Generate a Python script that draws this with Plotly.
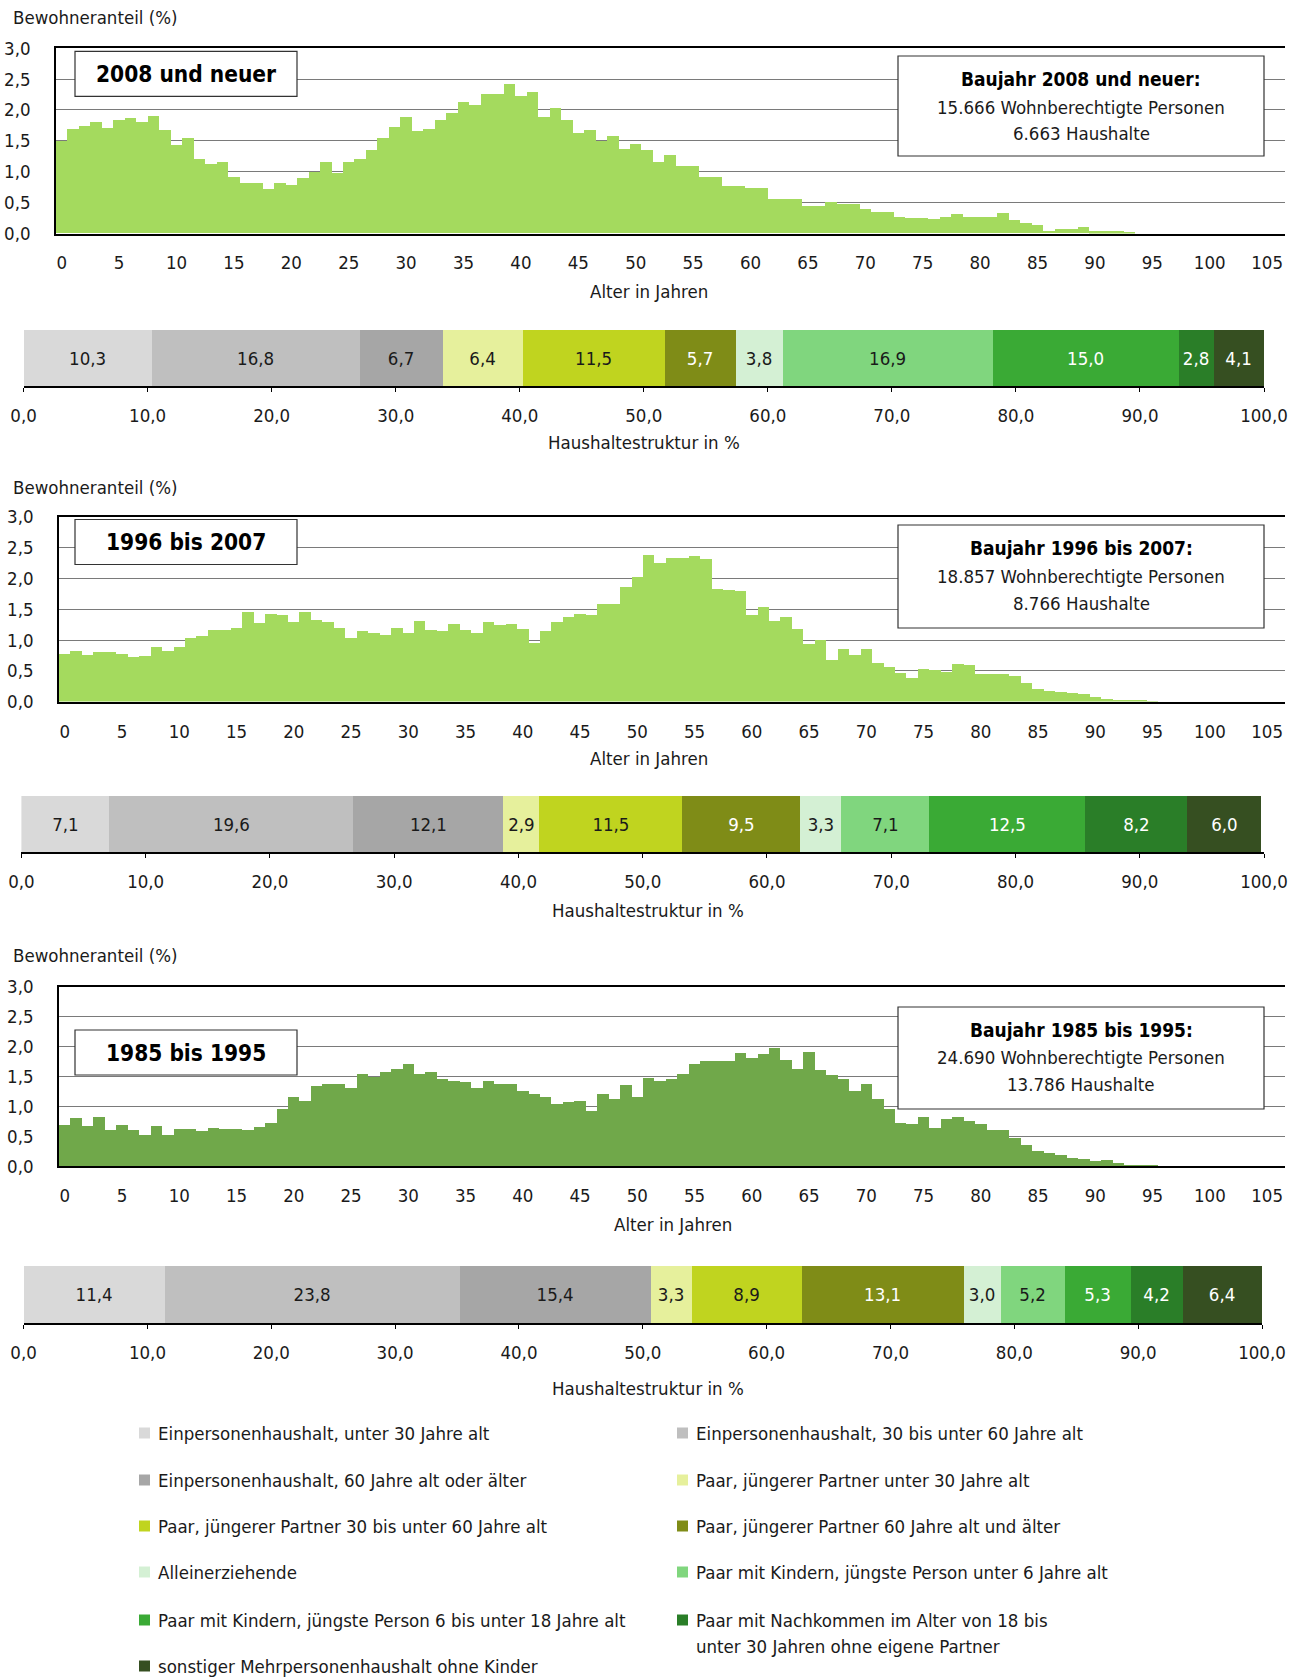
import plotly.graph_objects as go

W, H = 1295, 1680
FONT = "DejaVu Sans Condensed, Liberation Sans Narrow, Liberation Sans, sans-serif"
TXT = "#1a1a1a"
FS = 18.5

def px(x):
    return x / W

def py(y):
    return 1 - y / H

# ---------------- data ----------------
ages = list(range(0, 100))
age_ticks = list(range(0, 106, 5))
share_ticks = list(range(0, 101, 10))
y_ticks = [0, 0.5, 1.0, 1.5, 2.0, 2.5, 3.0]

hist_2008 = [1.49, 1.69, 1.73, 1.81, 1.71, 1.84, 1.87, 1.80, 1.90, 1.67,
             1.43, 1.54, 1.20, 1.12, 1.15, 0.91, 0.82, 0.82, 0.71, 0.82,
             0.79, 0.90, 1.00, 1.16, 0.97, 1.16, 1.21, 1.35, 1.54, 1.72,
             1.89, 1.65, 1.69, 1.84, 1.94, 2.12, 2.07, 2.26, 2.26, 2.41,
             2.22, 2.29, 1.89, 2.03, 1.84, 1.63, 1.67, 1.49, 1.57, 1.37,
             1.44, 1.35, 1.16, 1.27, 1.09, 1.09, 0.91, 0.91, 0.77, 0.77,
             0.73, 0.73, 0.56, 0.56, 0.56, 0.44, 0.44, 0.51, 0.48, 0.48,
             0.40, 0.34, 0.34, 0.27, 0.25, 0.25, 0.23, 0.26, 0.31, 0.26,
             0.26, 0.26, 0.33, 0.22, 0.16, 0.13, 0.04, 0.07, 0.07, 0.11,
             0.03, 0.03, 0.03, 0.01, 0.0]

hist_1996 = [0.77, 0.83, 0.75, 0.80, 0.81, 0.77, 0.72, 0.74, 0.88, 0.83,
             0.88, 1.03, 1.06, 1.16, 1.16, 1.19, 1.46, 1.28, 1.43, 1.40,
             1.30, 1.45, 1.32, 1.30, 1.19, 1.03, 1.14, 1.11, 1.09, 1.20,
             1.11, 1.31, 1.16, 1.14, 1.26, 1.16, 1.11, 1.29, 1.24, 1.26,
             1.18, 0.95, 1.14, 1.30, 1.38, 1.42, 1.41, 1.58, 1.59, 1.87,
             2.03, 2.38, 2.25, 2.34, 2.33, 2.37, 2.32, 1.83, 1.82, 1.80,
             1.41, 1.53, 1.31, 1.38, 1.18, 0.93, 1.00, 0.68, 0.85, 0.76,
             0.85, 0.62, 0.56, 0.47, 0.39, 0.53, 0.51, 0.48, 0.61, 0.60,
             0.45, 0.45, 0.45, 0.41, 0.31, 0.21, 0.18, 0.15, 0.14, 0.12,
             0.08, 0.05, 0.03, 0.02, 0.01, 0.005]

hist_1985 = [0.70, 0.81, 0.68, 0.83, 0.61, 0.70, 0.62, 0.54, 0.69, 0.54,
             0.64, 0.64, 0.60, 0.65, 0.64, 0.64, 0.62, 0.67, 0.73, 0.97,
             1.16, 1.10, 1.35, 1.38, 1.39, 1.32, 1.55, 1.50, 1.59, 1.64,
             1.72, 1.55, 1.59, 1.47, 1.43, 1.41, 1.31, 1.43, 1.39, 1.39,
             1.26, 1.21, 1.17, 1.05, 1.08, 1.10, 0.94, 1.21, 1.14, 1.36,
             1.16, 1.48, 1.44, 1.46, 1.55, 1.71, 1.76, 1.77, 1.76, 1.90,
             1.81, 1.89, 1.99, 1.79, 1.64, 1.92, 1.61, 1.53, 1.46, 1.27,
             1.39, 1.13, 0.97, 0.73, 0.72, 0.83, 0.65, 0.80, 0.84, 0.77,
             0.72, 0.61, 0.62, 0.49, 0.37, 0.26, 0.23, 0.20, 0.15, 0.13,
             0.10, 0.11, 0.07, 0.04, 0.03, 0.02, 0.01, 0.005]

categories = [
    "Einpersonenhaushalt, unter 30 Jahre alt",
    "Einpersonenhaushalt, 30 bis unter 60 Jahre alt",
    "Einpersonenhaushalt, 60 Jahre alt oder älter",
    "Paar, jüngerer Partner unter 30 Jahre alt",
    "Paar, jüngerer Partner 30 bis unter 60 Jahre alt",
    "Paar, jüngerer Partner 60 Jahre alt und älter",
    "Alleinerziehende",
    "Paar mit Kindern, jüngste Person unter 6 Jahre alt",
    "Paar mit Kindern, jüngste Person 6 bis unter 18 Jahre alt",
    "Paar mit Nachkommen im Alter von 18 bis<br>unter 30 Jahren ohne eigene Partner",
    "sonstiger Mehrpersonenhaushalt ohne Kinder",
]
shares_2008 = [10.3, 16.8, 6.7, 6.4, 11.5, 5.7, 3.8, 16.9, 15.0, 2.8, 4.1]
shares_1996 = [7.1, 19.6, 12.1, 2.9, 11.5, 9.5, 3.3, 7.1, 12.5, 8.2, 6.0]
shares_1985 = [11.4, 23.8, 15.4, 3.3, 8.9, 13.1, 3.0, 5.2, 5.3, 4.2, 6.4]

cat_colors = ["#d9d9d9", "#bfbfbf", "#a6a6a6", "#e6f09c", "#c0d41f", "#7f8c17",
              "#d4f0d4", "#80d67e", "#3aaa35", "#2a7e28", "#364f21"]
cat_text_colors = [TXT, TXT, TXT, TXT, TXT, "white", TXT, TXT, "white", "white", "white"]

titles = ["2008 und neuer", "1996 bis 2007", "1985 bis 1995"]
info_head = ["Baujahr 2008 und neuer:", "Baujahr 1996 bis 2007:", "Baujahr 1985 bis 1995:"]
persons = ["15.666", "18.857", "24.690"]
households = ["6.663", "8.766", "13.786"]

def de(v, d=1):
    return f"{v:.{d}f}".replace(".", ",")

# ---------------- layout geometry (pixels) ----------------
HIST_COLORS = ["#a4da5e", "#a4da5e", "#70a84a"]
hist_data = [hist_2008, hist_1996, hist_1985]
share_data = [shares_2008, shares_1996, shares_1985]

hist_geo = [  # left, right, top(3.0), bottom(0.0)
    (56, 1285, 48.2, 233.5),
    (59, 1285, 517.0, 701.6),
    (59, 1285, 986.5, 1166.4),
]
stack_geo = [  # left, right, top, bottom
    (23.6, 1264, 330, 386),
    (21.4, 1264, 796, 852),
    (23.6, 1262, 1266, 1323),
]
ylab_y = [18, 487, 955]
alter_pos = [(649, 291), (649, 759), (673, 1224)]
haus_pos = [(644, 443), (648, 911), (648, 1388)]
title_box = [(75, 297, 51.4, 96.4), (75, 297, 519.5, 564.5), (75, 297, 1030, 1075)]
info_box = [(898, 1264, 56, 156), (898, 1264, 525, 628), (898, 1264, 1007, 1109)]
info_lines_y = [(79, 107, 134), (548, 576, 603), (1030, 1057, 1084)]

fig = go.Figure()
layout = dict(
    width=W, height=H, autosize=False,
    margin=dict(l=0, r=0, t=0, b=0, pad=0, autoexpand=False),
    paper_bgcolor="white", plot_bgcolor="white",
    font=dict(family=FONT, size=FS, color=TXT),
    barmode="stack", bargap=0, showlegend=False,
    separators=",.",
)
shapes = []
annotations = []

def ann(text, x, y, size=FS, xanchor="center", yanchor="middle", color=TXT, align="center"):
    annotations.append(dict(text=text, x=px(x), y=py(y), xref="paper", yref="paper",
                            xanchor=xanchor, yanchor=yanchor, align=align, showarrow=False,
                            font=dict(size=size, family=FONT, color=color)))

for k in range(3):
    hx = 2 * k + 1
    sx = 2 * k + 2
    hname = "" if hx == 1 else str(hx)
    sname = str(sx)
    vals = hist_data[k]
    fig.add_trace(go.Bar(
        x=ages[:len(vals)], y=vals, width=1.0,
        marker=dict(color=HIST_COLORS[k], line=dict(width=0)),
        xaxis="x" + hname, yaxis="y" + hname, hoverinfo="skip",
    ))
    l, r, t, b = hist_geo[k]
    layout["xaxis" + hname] = dict(
        domain=[px(l), px(r)], range=[-0.5, 106.56], anchor="y" + hname,
        tickmode="array", tickvals=age_ticks, ticktext=[str(a) for a in age_ticks],
        ticks="", showgrid=False, zeroline=False, automargin=False,
        showline=True, linecolor="black", linewidth=1.5, mirror=True,
        ticklabelstandoff=12, tickfont=dict(size=FS, family=FONT, color=TXT),
    )
    layout["yaxis" + hname] = dict(
        domain=[py(b), py(t)], range=[0, 3], anchor="x" + hname,
        tickmode="array", tickvals=y_ticks, ticktext=[de(v) for v in y_ticks],
        ticks="", showgrid=True, gridcolor="#7a7a7a", gridwidth=1.2, zeroline=False,
        showline=True, linecolor="black", linewidth=1.5, automargin=False,
        ticklabelstandoff=20, tickfont=dict(size=FS, family=FONT, color=TXT),
    )

    shares = share_data[k]
    for i, v in enumerate(shares):
        fig.add_trace(go.Bar(
            x=[v], y=[0], orientation="h", width=1.0,
            marker=dict(color=cat_colors[i], line=dict(width=0)),
            text=[de(v)], textposition="inside", insidetextanchor="middle",
            textangle=0, constraintext="none",
            textfont=dict(color=cat_text_colors[i], size=FS, family=FONT),
            xaxis="x" + sname, yaxis="y" + sname, hoverinfo="skip",
        ))
    l, r, t, b = stack_geo[k]
    layout["xaxis" + sname] = dict(
        domain=[px(l), px(r)], range=[0, 100], anchor="y" + sname,
        tickmode="array", tickvals=share_ticks, ticktext=[de(v) for v in share_ticks],
        ticks="outside", ticklen=4, tickcolor="black", tickwidth=1,
        showgrid=False, zeroline=False, automargin=False,
        showline=True, linecolor="black", linewidth=2,
        ticklabelstandoff=8, tickfont=dict(size=FS, family=FONT, color=TXT),
    )
    # top tick marks of the percentage axis
    layout["xaxis" + str(7 + k)] = dict(
        domain=[px(l), px(r)], range=[0, 100], anchor="y" + sname, overlaying="x" + sname,
        side="top", tickmode="array", tickvals=share_ticks,
        ticks="outside", ticklen=4, tickcolor="#555555", tickwidth=1,
        showticklabels=False, showgrid=False, zeroline=False, showline=False,
        automargin=False,
    )
    layout["yaxis" + sname] = dict(
        domain=[py(b), py(t)], range=[-0.5, 0.5], anchor="x" + sname,
        showticklabels=False, ticks="", showgrid=False, zeroline=False, showline=False,
        automargin=False,
    )

    ann("Bewohneranteil (%)", 11, ylab_y[k], xanchor="left")
    ann("Alter in Jahren", alter_pos[k][0], alter_pos[k][1])
    ann("Haushaltestruktur in %", haus_pos[k][0], haus_pos[k][1])

    bl, br, bt, bb = title_box[k]
    shapes.append(dict(type="rect", xref="paper", yref="paper", x0=px(bl), x1=px(br),
                       y0=py(bb), y1=py(bt), fillcolor="white",
                       line=dict(color="#333333", width=1.2), layer="above"))
    ann("<b>" + titles[k] + "</b>", (bl + br) / 2, (bt + bb) / 2, size=22.5, color="black")

    il, ir, it, ib = info_box[k]
    shapes.append(dict(type="rect", xref="paper", yref="paper", x0=px(il), x1=px(ir),
                       y0=py(ib), y1=py(it), fillcolor="white",
                       line=dict(color="#333333", width=1.2), layer="above"))
    ly = info_lines_y[k]
    cx = (il + ir) / 2
    ann("<b>" + info_head[k] + "</b>", cx, ly[0], size=19, color="black")
    ann(persons[k] + " Wohnberechtigte Personen", cx, ly[1], size=FS)
    ann(households[k] + " Haushalte", cx, ly[2], size=FS)

# legend
leg_rows = [1433, 1480, 1526, 1572, 1620, 1666]
leg_cols = [(139, 156), (677, 694)]
for i, name in enumerate(categories):
    row = i // 2
    col = i % 2
    sq_x, tx = leg_cols[col]
    yc = leg_rows[row]
    shapes.append(dict(type="rect", xref="paper", yref="paper", x0=px(sq_x), x1=px(sq_x + 11),
                       y0=py(yc + 5.5), y1=py(yc - 5.5), fillcolor=cat_colors[i],
                       line=dict(width=0), layer="above"))
    if "<br>" in name:
        first, second = name.split("<br>")
        ann(first, tx, yc, xanchor="left")
        ann(second, tx, yc + 26, xanchor="left")
    else:
        ann(name, tx, yc, xanchor="left")

layout["shapes"] = shapes
layout["annotations"] = annotations
fig.update_layout(**layout)
fig.write_html("out.html", config={"displayModeBar": False},
               post_script="document.body.style.margin='0px';")
